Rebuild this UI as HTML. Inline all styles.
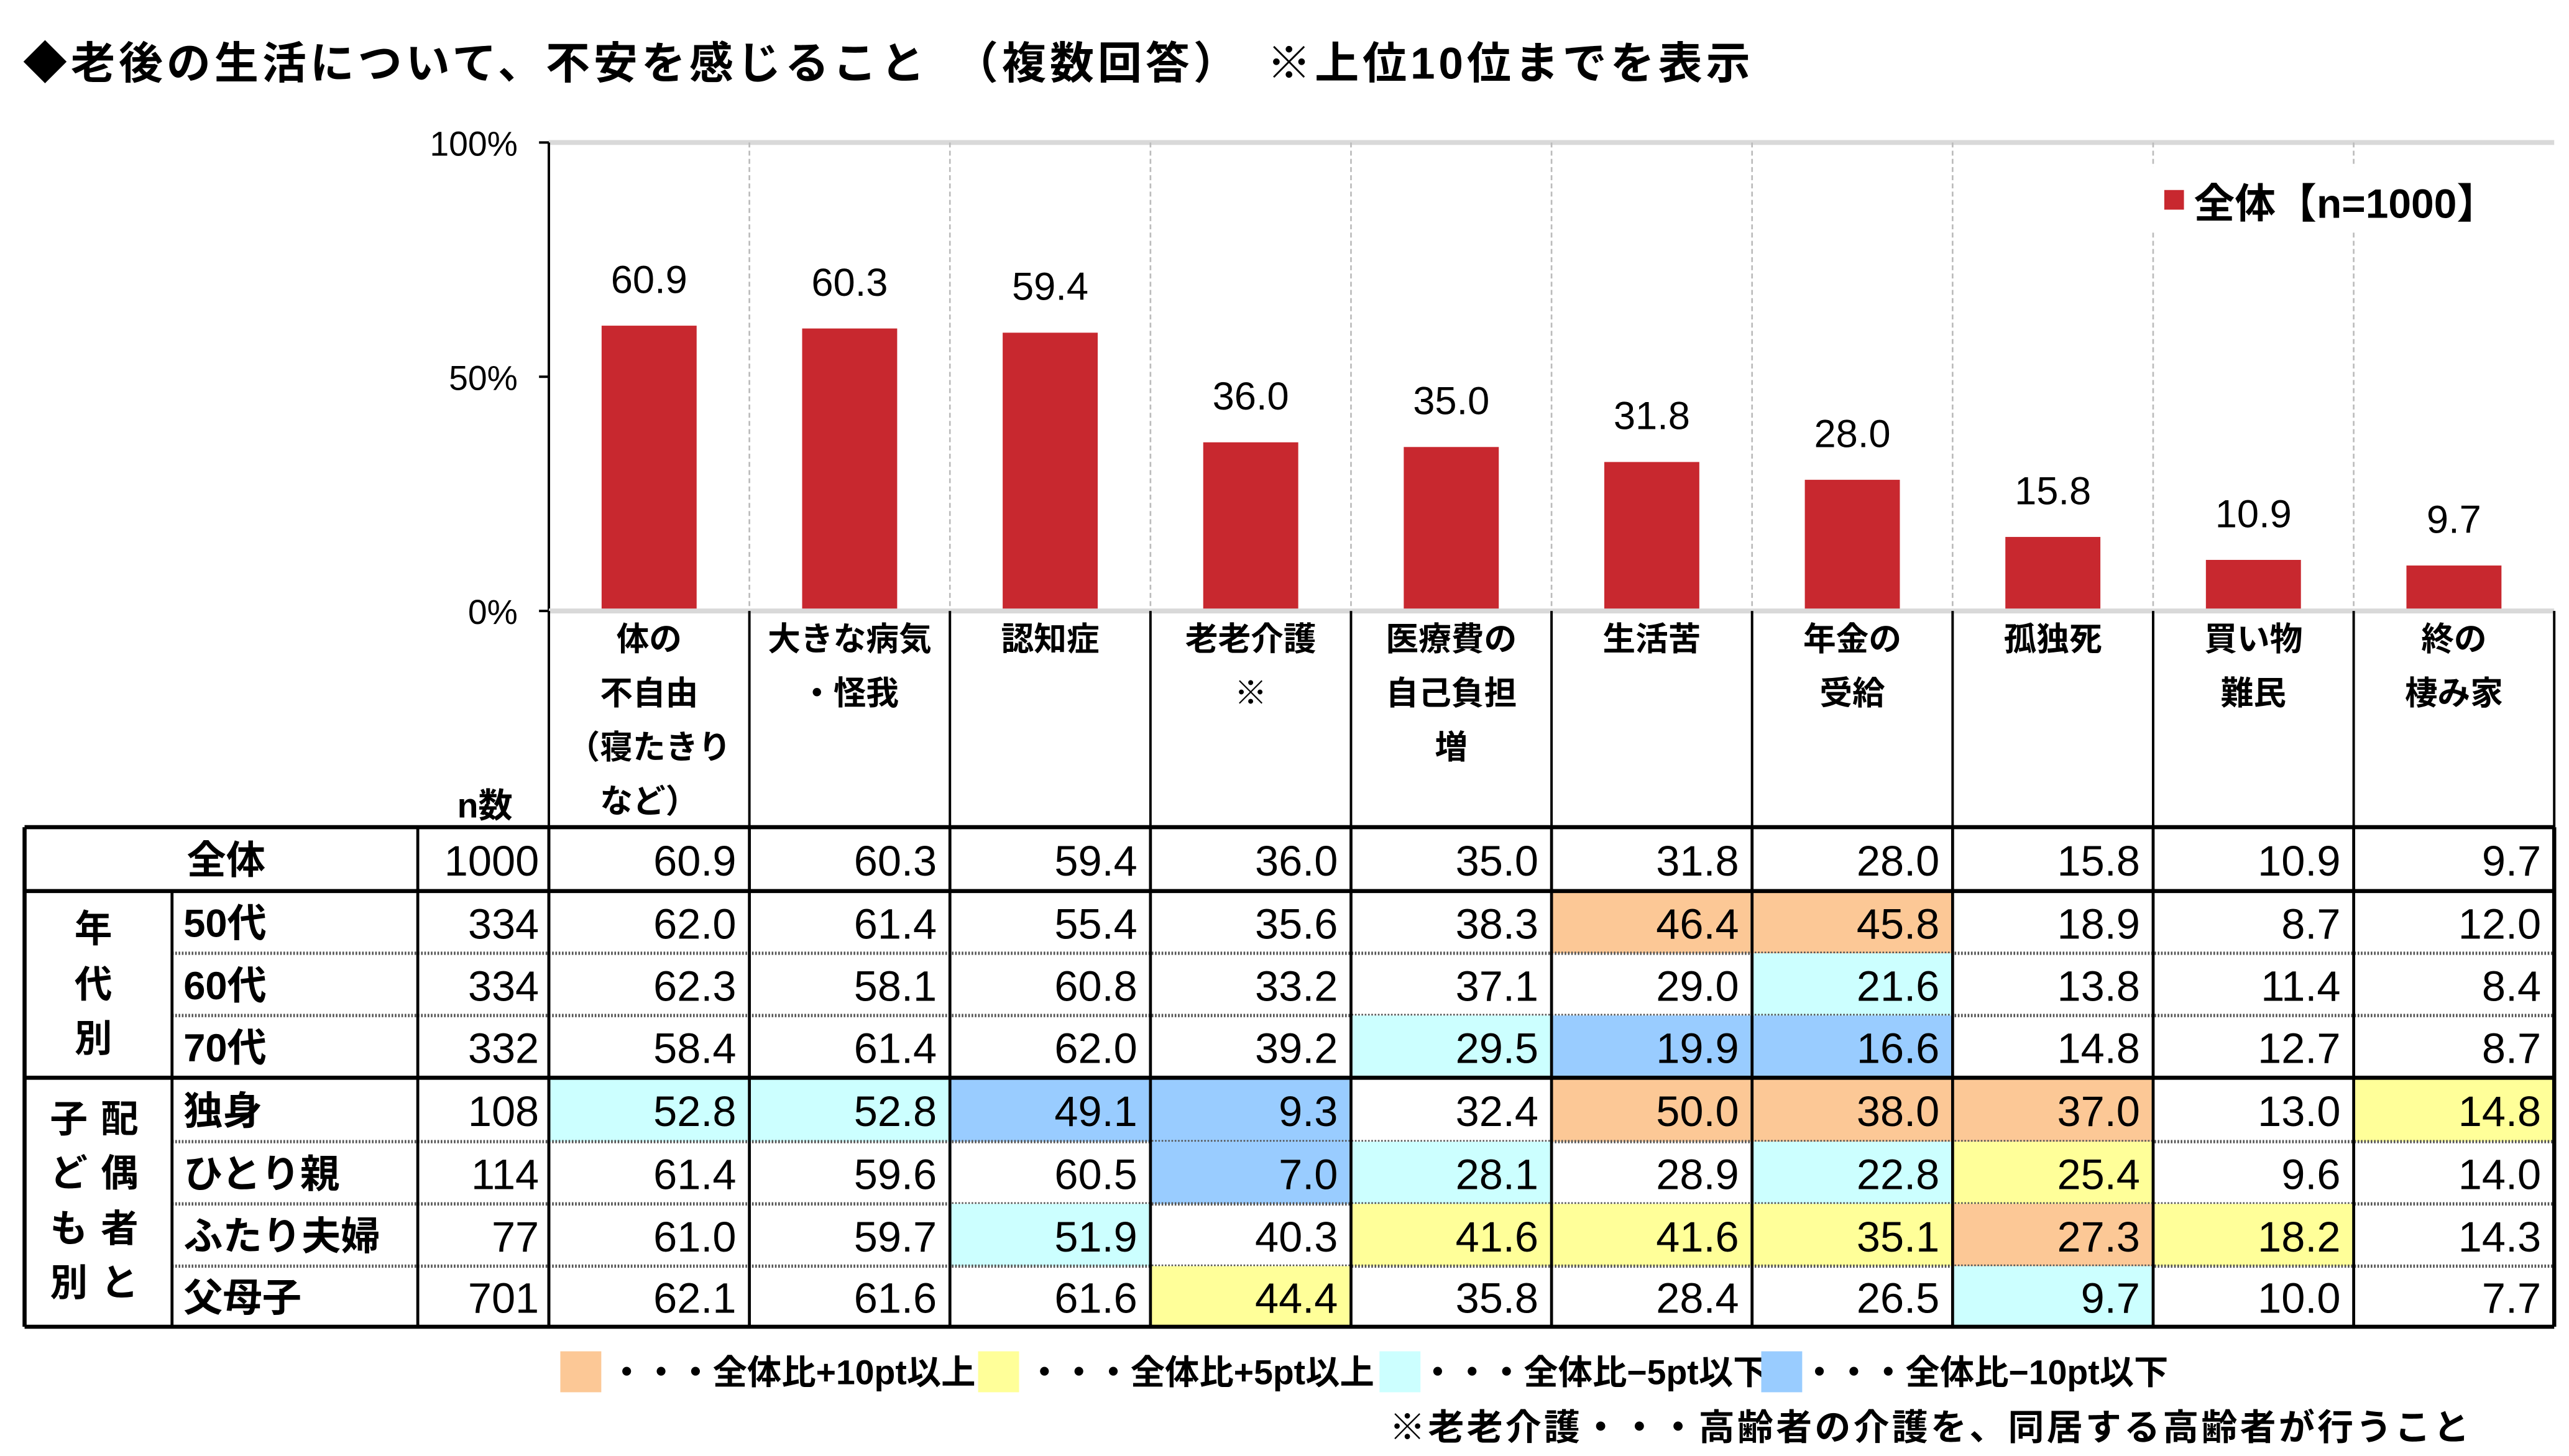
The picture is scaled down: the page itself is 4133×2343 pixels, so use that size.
<!DOCTYPE html>
<html><head><meta charset="utf-8">
<style>
html,body{margin:0;padding:0;background:#fff;}
body{width:4133px;height:2343px;overflow:hidden;}
#wrap{position:absolute;left:0;top:0;width:1568px;height:889px;transform:scale(2.6358);transform-origin:0 0;font-family:"Liberation Sans","Noto Sans CJK JP",sans-serif;font-weight:bold;color:#000;}
.abs{position:absolute;}
</style></head><body>
<div id="wrap">
<div class="abs" style="left:14px;top:17px;font-size:27px;letter-spacing:2.2px;white-space:nowrap;">◆老後の生活について、不安を感じること　（複数回答）　※上位10位までを表示</div>
<svg id="chart" class="abs" style="left:0;top:0" width="1568" height="889"></svg>
<div class="abs" style="left:1313px;top:102px;width:225px;height:40px;background:#fff;">
 <div class="abs" style="left:8px;top:14px;width:12px;height:12px;background:#C8282F"></div>
 <div class="abs" style="left:26px;top:3px;font-size:25px;white-space:nowrap">全体【n=1000】</div>
</div>
<div class="abs" style="left:342px;top:825px;width:25px;height:25px;background:#FCC896"></div>
<div class="abs" style="left:372px;top:822px;font-size:21px;white-space:nowrap">・・・全体比+10pt以上</div>
<div class="abs" style="left:597px;top:825px;width:25px;height:25px;background:#FFFF99"></div>
<div class="abs" style="left:627px;top:822px;font-size:21px;white-space:nowrap">・・・全体比+5pt以上</div>
<div class="abs" style="left:842px;top:825px;width:25px;height:25px;background:#CCFFFF"></div>
<div class="abs" style="left:867px;top:822px;font-size:21px;white-space:nowrap">・・・全体比−5pt以下</div>
<div class="abs" style="left:1075px;top:825px;width:25px;height:25px;background:#99CCFF"></div>
<div class="abs" style="left:1100px;top:822px;font-size:21px;white-space:nowrap">・・・全体比−10pt以下</div>
<div class="abs" style="left:848px;top:854px;font-size:22px;letter-spacing:1.6px;white-space:nowrap">※老老介護・・・高齢者の介護を、同居する高齢者が行うこと</div>
</div>
<script>
const categories=[["体の","不自由","（寝たきり","など）"],["大きな病気","・怪我"],["認知症"],["老老介護","※"],["医療費の","自己負担","増"],["生活苦"],["年金の","受給"],["孤独死"],["買い物","難民"],["終の","棲み家"]];
const values=[60.9,60.3,59.4,36.0,35.0,31.8,28.0,15.8,10.9,9.7];
const yTicks=[0,50,100];
const rowLabels=["全体","50代","60代","70代","独身","ひとり親","ふたり夫婦","父母子"];
const rowN=[1000,334,334,332,108,114,77,701];
const rowVals=[
[60.9,60.3,59.4,36.0,35.0,31.8,28.0,15.8,10.9,9.7],
[62.0,61.4,55.4,35.6,38.3,46.4,45.8,18.9,8.7,12.0],
[62.3,58.1,60.8,33.2,37.1,29.0,21.6,13.8,11.4,8.4],
[58.4,61.4,62.0,39.2,29.5,19.9,16.6,14.8,12.7,8.7],
[52.8,52.8,49.1,9.3,32.4,50.0,38.0,37.0,13.0,14.8],
[61.4,59.6,60.5,7.0,28.1,28.9,22.8,25.4,9.6,14.0],
[61.0,59.7,51.9,40.3,41.6,41.6,35.1,27.3,18.2,14.3],
[62.1,61.6,61.6,44.4,35.8,28.4,26.5,9.7,10.0,7.7]];

const NS="http://www.w3.org/2000/svg";
const svg=document.getElementById('chart');
const X0=335,CW=122.4,Y0=373,Y1=87;
const y=v=>Y0-(v/100)*(Y0-Y1);
const xc=i=>X0+CW*i+CW/2;
function mk(t,a){const e=document.createElementNS(NS,t);for(const k in a)e.setAttribute(k,a[k]);svg.appendChild(e);return e;}
let e;
e=mk('line',{x1:X0,y1:Y1,x2:X0+CW*10,y2:Y1,stroke:'#d9d9d9','stroke-width':3});


for(let i=1;i<10;i++){
 e=mk('line',{x1:X0+CW*i,y1:Y1,x2:X0+CW*i,y2:Y0,stroke:'#bbb','stroke-width':1,'stroke-dasharray':'3,2'});
 
 
}
e=mk('line',{x1:X0,y1:Y1,x2:X0,y2:Y0,stroke:'#000','stroke-width':1.5});


yTicks.forEach(t=>{
 e=mk('line',{x1:X0-6,y1:y(t),x2:X0,y2:y(t),stroke:'#000','stroke-width':1.5});
 
 
 e=mk('text',{x:316,y:y(t)+8,'text-anchor':'end','font-size':21,'font-weight':'normal'});
 e.textContent=t+'%';
 
 
});
values.forEach((v,i)=>{
 e=mk('rect',{x:xc(i)-29,y:y(v),width:58,height:Y0-y(v),fill:'#C8282F'});
 
 
 e=mk('text',{x:xc(i),y:y(v)-20,'text-anchor':'middle','font-size':24,'font-weight':'normal'});
 e.textContent=v.toFixed(1);
 
 
});
e=mk('line',{x1:X0,y1:Y0,x2:X0+CW*10,y2:Y0,stroke:'#d9d9d9','stroke-width':3});


for(let i=0;i<=10;i++){
 e=mk('line',{x1:X0+CW*i,y1:Y0,x2:X0+CW*i,y2:505,stroke:'#000','stroke-width':1.5});
 
 
}
categories.forEach((c,i)=>{
 c.forEach((ln,j)=>{
  e=mk('text',{x:xc(i),y:397+j*33,'text-anchor':'middle','font-size':20,'font-weight':'bold'});
  e.textContent=ln;
  
  
 });
});
e=mk('text',{x:296,y:499,'text-anchor':'middle','font-size':21,'font-weight':'bold'});
e.textContent='n数';



const HI={"1-5":"#FCC896","1-6":"#FCC896","2-6":"#CCFFFF","3-4":"#CCFFFF","3-5":"#99CCFF","3-6":"#99CCFF",
"4-0":"#CCFFFF","4-1":"#CCFFFF","4-2":"#99CCFF","4-3":"#99CCFF","4-5":"#FCC896","4-6":"#FCC896","4-7":"#FCC896","4-9":"#FFFF99",
"5-3":"#99CCFF","5-4":"#CCFFFF","5-6":"#CCFFFF","5-7":"#FFFF99",
"6-2":"#CCFFFF","6-4":"#FFFF99","6-5":"#FFFF99","6-6":"#FFFF99","6-7":"#FCC896","6-8":"#FFFF99",
"7-3":"#FFFF99","7-7":"#CCFFFF"};
const RY=[505,544,582,620,658,697,735,773,810];
const tx=X0+CW*10;
RY.slice(0,8).forEach((top,r)=>{
 const h=RY[r+1]-top;
 rowVals[r].forEach((v,i)=>{
  const col=HI[r+'-'+i];
  if(col){e=mk('rect',{x:X0+CW*i,y:top,width:CW,height:h,fill:col});
   
   }
  e=mk('text',{x:X0+CW*(i+1)-8,y:top+h/2+10,'text-anchor':'end','font-size':26,'font-weight':'normal'});
  e.textContent=v.toFixed(1);
  
  
 });
 e=mk('text',{x:X0-6,y:top+h/2+10,'text-anchor':'end','font-size':26,'font-weight':'normal'});
 e.textContent=rowN[r];
 
 
 e=mk('text',{x:r==0?138:112,y:top+h/2+9,'text-anchor':r==0?'middle':'start','font-size':24,'font-weight':'bold'});
 e.textContent=rowLabels[r];
 
 
 if(r>=1&&r<7&&r!=3){
  e=mk('line',{x1:105,y1:RY[r+1],x2:tx,y2:RY[r+1],stroke:'#555','stroke-width':2,'stroke-dasharray':'1,1'});
  
  
 }
});
[505,544,658,810].forEach(yy=>{
 e=mk('line',{x1:15,y1:yy,x2:tx,y2:yy,stroke:'#000','stroke-width':2.5});
 
 
});
[15,255,335].concat([...Array(11).keys()].map(i=>X0+CW*i)).forEach(xx=>{
 e=mk('line',{x1:xx,y1:505,x2:xx,y2:810,stroke:'#000','stroke-width':xx==15||xx==tx?2.5:1.8});
 
 
});
e=mk('line',{x1:105,y1:544,x2:105,y2:810,stroke:'#000','stroke-width':1.8});


[["年",57,575],["代",57,609],["別",57,642],["子",42,691],["ど",42,724],["も",42,758],["別",42,791],["配",73,691],["偶",73,724],["者",73,758],["と",73,791]].forEach(g=>{
 e=mk('text',{x:g[1],y:g[2],'text-anchor':'middle','font-size':23,'font-weight':'bold'});
 e.textContent=g[0];
 
 
});
</script>
</body></html>
